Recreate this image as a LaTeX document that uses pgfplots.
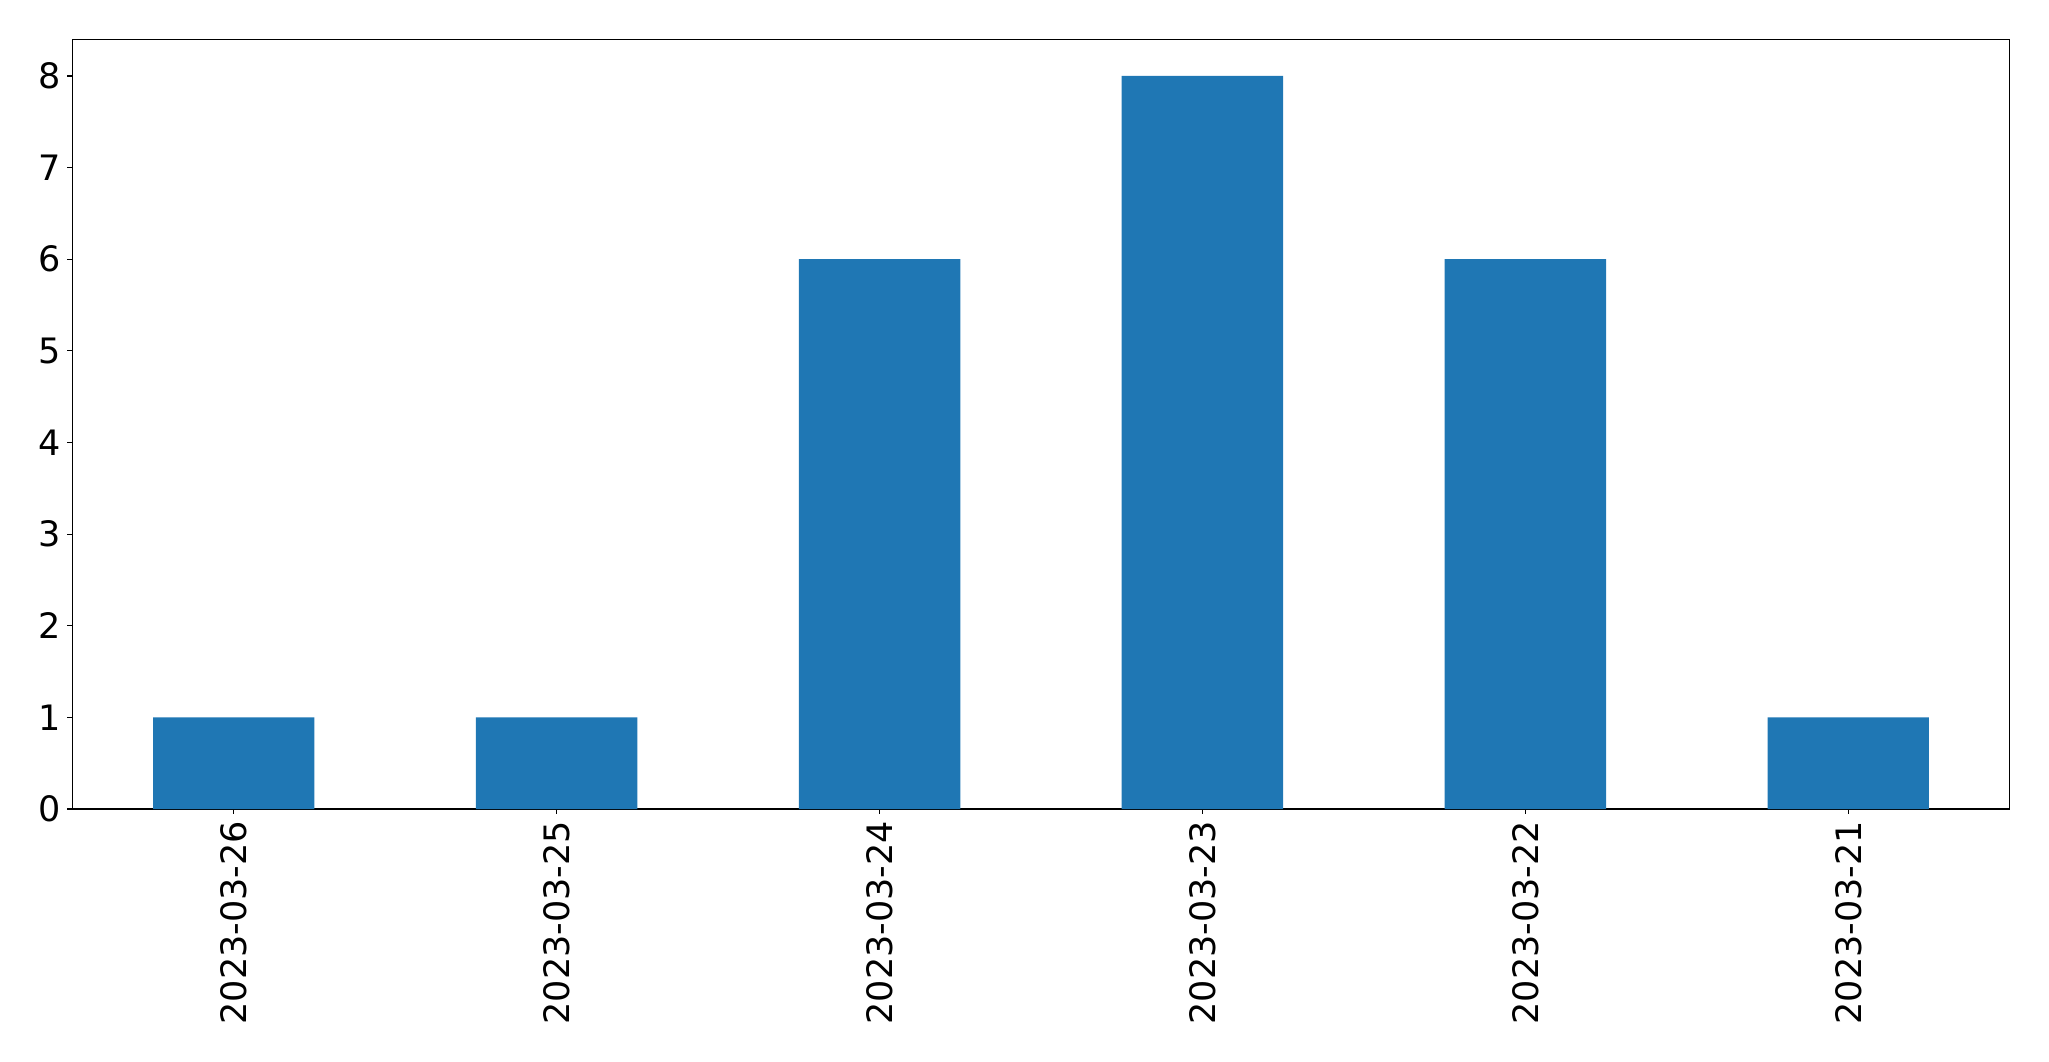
\documentclass[border=0pt]{standalone}
\usepackage{fontspec}
\setmainfont{DejaVu Sans}
\usepackage{pgfplots}
\pgfplotsset{compat=1.18}
\definecolor{barblue}{HTML}{1F77B4}
\begin{document}
\begin{tikzpicture}
\begin{axis}[
  at={(0,0)}, anchor=south west,
  scale only axis, width=968.7pt, height=384.85pt,
  xmin=-0.5, xmax=5.5, ymin=0, ymax=8.4,
  xtick={0,1,2,3,4,5},
  xticklabels={2023-03-26,2023-03-25,2023-03-24,2023-03-23,2023-03-22,2023-03-21},
  ytick={0,1,2,3,4,5,6,7,8},
  tick align=outside, tick pos=left,
  major tick length=2.4pt,
  line width=0.55pt,
  every tick/.style={black, line width=0.55pt},
  ticklabel style={font=\fontsize{17.5}{20}\selectfont},
  x tick label style={rotate=90, anchor=east},
  /pgf/number format/assume math mode=true,
]
\addplot[ybar, bar width=0.5, fill=barblue, draw=none] coordinates {(0,1) (1,1) (2,6) (3,8) (4,6) (5,1)};
\end{axis}
\pgfresetboundingbox
\path[use as bounding box] (-36.15pt,-126pt) rectangle (988.35pt,404.5pt);
\end{tikzpicture}
\end{document}
